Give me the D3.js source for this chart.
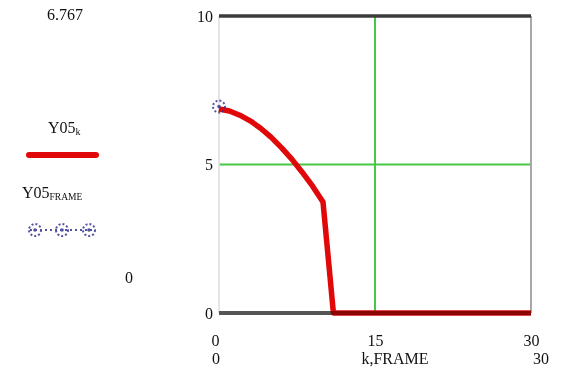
<!DOCTYPE html>
<html>
<head>
<meta charset="utf-8">
<script src="https://cdn.jsdelivr.net/npm/d3@7"></script>
<style>
  html, body { margin: 0; padding: 0; background: #fff; }
  svg { display: block; }
  text { font-family: "Liberation Serif", "DejaVu Serif", serif; font-size: 16px; fill: #111; }
</style>
</head>
<body>
<svg id="chart" width="568" height="372"></svg>
<script>
// Y05 sampled at k = 0..30
const kValues = d3.range(0, 31);
const y05 = [6.87, 6.80, 6.66, 6.47, 6.22, 5.92, 5.57, 5.18, 4.74, 4.27, 3.74,
             0, 0, 0, 0, 0, 0, 0, 0, 0, 0, 0, 0, 0, 0, 0, 0, 0, 0, 0, 0];
// single frame point
const frameK = [0];
const y05Frame = [6.95];

const xTicks = [0, 15, 30];
const yTicks = [0, 5, 10];
const gridX = [15];
const gridY = [5];
const markerTop = "6.767";
const markerBottom = "0";
const xRangeLabels = ["0", "30"];
const xAxisTitle = "k,FRAME";

const svg = d3.select("#chart");
const x = d3.scaleLinear().domain([0, 30]).range([219, 531]);
const y = d3.scaleLinear().domain([0, 10]).range([313, 16]);

// grid lines
svg.selectAll(".gx").data(gridX).enter().append("line")
  .attr("x1", d => x(d)).attr("x2", d => x(d))
  .attr("y1", y(10)).attr("y2", y(0))
  .attr("stroke", "#46c846").attr("stroke-width", 2);
svg.selectAll(".gy").data(gridY).enter().append("line")
  .attr("x1", x(0)).attr("x2", x(30))
  .attr("y1", d => y(d)).attr("y2", d => y(d))
  .attr("stroke", "#46c846").attr("stroke-width", 2);

// frame
svg.append("line").attr("x1", x(0)).attr("x2", x(0)).attr("y1", y(10)).attr("y2", y(0))
  .attr("stroke", "#dcdcdc").attr("stroke-width", 1.5);
svg.append("line").attr("x1", x(30)).attr("x2", x(30)).attr("y1", y(10)).attr("y2", y(0))
  .attr("stroke", "#a8a8a8").attr("stroke-width", 2);
svg.append("line").attr("x1", x(0)).attr("x2", x(30)).attr("y1", y(10)).attr("y2", y(10))
  .attr("stroke", "#3c3c3c").attr("stroke-width", 3.5);
svg.append("line").attr("x1", x(0)).attr("x2", x(30)).attr("y1", y(0)).attr("y2", y(0))
  .attr("stroke", "#888").attr("stroke-width", 4);

// Y05 trace
const line = d3.line().x((d, i) => x(kValues[i])).y(d => y(d));
svg.append("path").datum(y05)
  .attr("d", line)
  .attr("fill", "none")
  .attr("stroke", "#e00808")
  .attr("stroke-width", 5.5)
  .attr("stroke-linejoin", "round");

// shade the zero line so the trace lying on it reads dark
svg.append("line").attr("x1", x(0)).attr("x2", x(30)).attr("y1", y(0)).attr("y2", y(0))
  .attr("stroke", "#a0a0a0").attr("stroke-width", 4)
  .style("mix-blend-mode", "multiply");

// Y05 frame marker
function frameMarker(g, cx, cy) {
  g.append("circle").attr("cx", cx).attr("cy", cy).attr("r", 6)
    .attr("fill", "none").attr("stroke", "#34348f").attr("stroke-width", 2)
    .attr("stroke-dasharray", "2,2");
  g.append("circle").attr("cx", cx).attr("cy", cy).attr("r", 1.8).attr("fill", "#34348f");
}
const fm = svg.append("g").attr("opacity", 0.8);
frameK.forEach((k, i) => frameMarker(fm, x(k), y(y05Frame[i])));

// axes
const yAxis = d3.axisLeft(y).tickValues(yTicks).tickSize(0).tickPadding(6).tickFormat(d3.format("d"));
const gy = svg.append("g").attr("transform", `translate(${x(0)},0)`).call(yAxis);
gy.select(".domain").remove();
gy.selectAll("text").style("font-size", "16px").style("font-family", "Liberation Serif").attr("fill", "#111");

const xAxis = d3.axisBottom(x).tickValues(xTicks).tickSize(0).tickPadding(22).tickFormat(d3.format("d"));
const gx = svg.append("g").attr("transform", `translate(0,${y(0)})`).call(xAxis);
gx.select(".domain").remove();
gx.selectAll("text").style("font-size", "16px").style("font-family", "Liberation Serif").attr("fill", "#111");
gx.selectAll(".tick").filter(d => d === 0).select("text").attr("dx", -4);

// axis range row and title
svg.append("text").attr("x", 212).attr("y", 364).text(xRangeLabels[0]);
svg.append("text").attr("x", 533).attr("y", 364).text(xRangeLabels[1]);
svg.append("text").attr("x", 395).attr("y", 364).attr("text-anchor", "middle").text(xAxisTitle);

// y marker values and legend
svg.append("text").attr("x", 47).attr("y", 20).text(markerTop);
svg.append("text").attr("x", 125).attr("y", 283).text(markerBottom);

const t1 = svg.append("text").attr("x", 48).attr("y", 133);
t1.append("tspan").text("Y05");
t1.append("tspan").attr("dy", 2).style("font-size", "10px").text("k");
svg.append("line").attr("x1", 29).attr("x2", 96).attr("y1", 155).attr("y2", 155)
  .attr("stroke", "#e00808").attr("stroke-width", 6).attr("stroke-linecap", "round");

const t2 = svg.append("text").attr("x", 22).attr("y", 198);
t2.append("tspan").text("Y05");
t2.append("tspan").attr("dy", 2).style("font-size", "9.5px").text("FRAME");
const lg = svg.append("g").attr("opacity", 0.85);
lg.append("line").attr("x1", 30).attr("x2", 95).attr("y1", 230).attr("y2", 230)
  .attr("stroke", "#34348f").attr("stroke-width", 2).attr("stroke-dasharray", "2,3");
[35, 62, 89].forEach(cx => frameMarker(lg, cx, 230));
</script>
</body>
</html>
